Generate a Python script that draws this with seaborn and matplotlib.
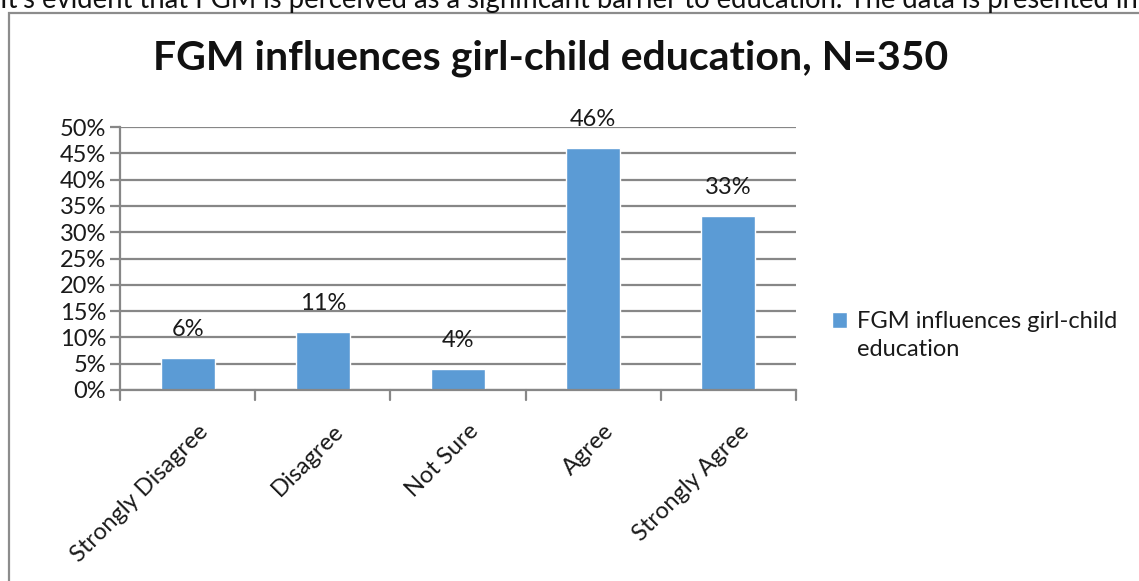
import matplotlib
matplotlib.use("Agg")
import matplotlib.pyplot as plt
import matplotlib.patches as patches
from matplotlib.transforms import ScaledTranslation
import seaborn as sns
import pandas as pd
import numpy as np

categories = ['Strongly Disagree', 'Disagree', 'Not Sure', 'Agree', 'Strongly Agree']
percent = [6, 11, 4, 46, 33]
legend_lines = ['FGM influences girl-child', 'education']
title = 'FGM influences girl-child education, N=350'
caption = "It's evident that FGM is perceived as a significant barrier to education. The data is presented in"

sns.set_theme(style='white')
plt.rcParams['font.family'] = ['Lato', 'DejaVu Sans']

df = pd.DataFrame({'cat': categories, 'val': percent})
bar_color = '#5B9BD5'
grid_color = '#878787'
text_color = '#1a1a1a'
fs = 17

fig = plt.figure(figsize=(11.39, 5.81), dpi=100)
# chart frame
fig.patches.append(patches.Rectangle((9/1139, -0.1), 1.2, (581-13)/581 + 0.1, transform=fig.transFigure,
                                     fill=False, edgecolor='#8c8c8c', linewidth=1.6))
fig.text(0.0, 1 - 8/581, caption, fontsize=19.8, ha='left', va='baseline', color='#111111')

ax = fig.add_axes([120/1139, 1-390/581, (796-120)/1139, (390-127)/581])
sns.barplot(data=df, x='cat', y='val', color=bar_color, width=0.4, ax=ax,
            saturation=1, label=legend_lines[0])
ax.set_ylim(0, 50)
ax.set_xlim(-0.5, 4.5)
ax.set_yticks(np.arange(0, 51, 5))
ax.set_yticklabels([f'{v}%' for v in range(0, 51, 5)], fontsize=fs, color=text_color)
ax.yaxis.grid(True, color=grid_color, linewidth=1.6)
ax.set_axisbelow(True)
ax.set_xlabel('')
ax.set_ylabel('')
for s in ['top', 'right']:
    ax.spines[s].set_visible(False)
for s in ['left', 'bottom']:
    ax.spines[s].set_color(grid_color)
    ax.spines[s].set_linewidth(1.6)

# category labels, tick marks at category boundaries
ax.set_xticks(np.arange(len(categories)))
ax.set_xticklabels(categories, rotation=45, ha='right', rotation_mode='anchor',
                   fontsize=fs, color=text_color)
ax.tick_params(axis='x', length=0, pad=22)
shift = ScaledTranslation(10/100, 0, fig.dpi_scale_trans)
for lab in ax.get_xticklabels():
    lab.set_transform(lab.get_transform() + shift)
for b in np.arange(-0.5, 5, 1):
    ax.plot([b, b], [0, -1.9], color=grid_color, lw=1.6, clip_on=False)
ax.tick_params(axis='y', length=7, width=1.6, color=grid_color, left=True, pad=3)

for i, v in enumerate(percent):
    ax.text(i, v + 5.5, f'{v}%', ha='center', va='center', fontsize=fs, color=text_color)

fig.text(551/1139, 1-58/581, title, ha='center', va='center', fontsize=29.5,
         fontweight='bold', color='#111111')

leg = ax.legend(loc='center left', bbox_to_anchor=(832/1139, 1-322/581), bbox_transform=fig.transFigure,
                frameon=False, fontsize=fs, borderpad=0, borderaxespad=0,
                handlelength=0.64, handleheight=0.64, handletextpad=0.42)
for t in leg.get_texts():
    t.set_color(text_color)

# second line of the legend entry, under the first
fig.canvas.draw()
bb = leg.get_texts()[0].get_window_extent()
fig.text(bb.x0 / fig.bbox.width, 1 - 350/581, legend_lines[1], fontsize=fs,
         ha='left', va='center', color=text_color)

fig.savefig('out.png', dpi=100, facecolor='white')
